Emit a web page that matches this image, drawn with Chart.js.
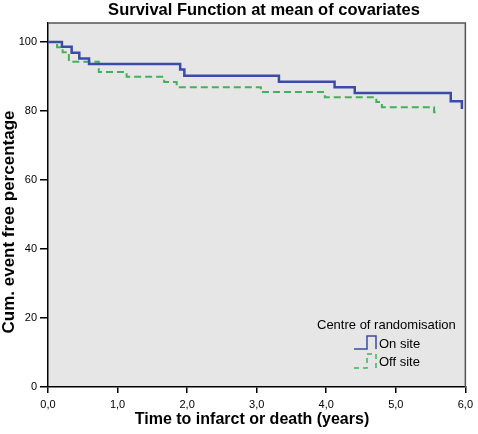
<!DOCTYPE html>
<html>
<head>
<meta charset="utf-8">
<script src="https://cdn.jsdelivr.net/npm/chart.js@4"></script>
<style>
  body { margin: 0; background: #ffffff; }
  #wrap { width: 478px; height: 434px; }
</style>
</head>
<body>
<div id="wrap"><canvas id="survivalChart" width="478" height="434"></canvas></div>
<script>
// Survival steps (time in years, cum. event free %)
const onSiteTimes = [0, 0.2, 0.34, 0.45, 0.59, 1.9, 1.96, 3.32, 4.12, 4.41, 5.79, 5.95];
const onSiteValues = [100, 98.6, 96.9, 95.2, 93.6, 92.0, 90.2, 88.5, 86.9, 85.2, 82.8, 80.6];

const offSiteTimes = [0, 0.13, 0.21, 0.3, 0.73, 1.13, 1.67, 1.85, 3.06, 3.98, 4.72, 4.8, 5.55, 5.61];
const offSiteValues = [100, 98.5, 97.0, 94.3, 91.3, 89.9, 88.4, 86.9, 85.5, 84.0, 82.6, 81.1, 79.6, 79.6];

const xTicks = [0, 1, 2, 3, 4, 5, 6];
const yTicks = [0, 20, 40, 60, 80, 100];

const seriesLabels = ["On site", "Off site"];
const legendTitle = "Centre of randomisation";
const chartTitle = "Survival Function at mean of covariates";
const xTitle = "Time to infarct or death (years)";
const yTitle = "Cum. event free percentage";

const blue = "#3a4ba8";
const green = "#45b05a";
const fontFamily = "'Liberation Sans', Arial, sans-serif";

function toPoints(times, values) {
  return times.map((t, i) => ({ x: t, y: values[i] }));
}

// Background, box, titles and the step-shaped legend
const survivalDecor = {
  id: "survivalDecor",
  beforeDraw(chart) {
    const { ctx, chartArea: a } = chart;
    ctx.save();
    ctx.fillStyle = "#e6e6e6";
    ctx.fillRect(a.left, a.top, a.right - a.left, a.bottom - a.top);
    ctx.restore();
  },
  afterDraw(chart) {
    const { ctx, chartArea: a } = chart;
    ctx.save();

    // top and right edges of the box
    ctx.strokeStyle = "#555555";
    ctx.lineWidth = 1.5;
    ctx.beginPath();
    ctx.moveTo(a.left, a.top);
    ctx.lineTo(a.right, a.top);
    ctx.lineTo(a.right, a.bottom);
    ctx.stroke();

    // titles
    ctx.fillStyle = "#000000";
    ctx.textAlign = "center";
    ctx.textBaseline = "middle";
    ctx.font = "bold 16.5px " + fontFamily;
    ctx.fillText(chartTitle, 264, 10);
    ctx.font = "bold 16px " + fontFamily;
    ctx.fillText(xTitle, 252, 420);

    ctx.save();
    ctx.translate(9, 222);
    ctx.rotate(-Math.PI / 2);
    ctx.font = "bold 17px " + fontFamily;
    ctx.fillText(yTitle, 0, 0);
    ctx.restore();

    // legend
    ctx.font = "13px " + fontFamily;
    ctx.textAlign = "left";
    ctx.fillText(legendTitle, 317, 325);
    ctx.fillText(seriesLabels[0], 379, 344);
    ctx.fillText(seriesLabels[1], 379, 362);

    ctx.lineWidth = 1.5;
    ctx.strokeStyle = blue;
    ctx.beginPath();
    ctx.moveTo(354, 349);
    ctx.lineTo(367, 349);
    ctx.lineTo(367, 336);
    ctx.lineTo(376, 336);
    ctx.lineTo(376, 349);
    ctx.stroke();

    ctx.strokeStyle = green;
    ctx.setLineDash([5, 4]);
    ctx.beginPath();
    ctx.moveTo(354, 368);
    ctx.lineTo(367, 368);
    ctx.lineTo(367, 354);
    ctx.lineTo(376, 354);
    ctx.lineTo(376, 368);
    ctx.stroke();

    ctx.restore();
  },
};

const survivalChart = new Chart(document.getElementById("survivalChart"), {
  type: "line",
  data: {
    datasets: [
      {
        label: seriesLabels[0],
        data: toPoints(onSiteTimes, onSiteValues),
        borderColor: blue,
        borderWidth: 2.5,
        stepped: true,
        pointRadius: 0,
        fill: false,
      },
      {
        label: seriesLabels[1],
        data: toPoints(offSiteTimes, offSiteValues),
        borderColor: green,
        borderWidth: 2,
        borderDash: [7, 4],
        stepped: true,
        pointRadius: 0,
        fill: false,
      },
    ],
  },
  options: {
    responsive: false,
    animation: false,
    layout: {
      padding: { left: 0, right: 9, top: 23, bottom: 0 },
    },
    plugins: {
      legend: { display: false },
      tooltip: { enabled: false },
      title: { display: false },
    },
    scales: {
      x: {
        type: "linear",
        min: 0,
        max: 6,
        afterFit: (scale) => { scale.height = 47; },
        afterBuildTicks: (scale) => { scale.ticks = xTicks.map((v) => ({ value: v })); },
        border: { color: "#000000", width: 1.5 },
        grid: { drawOnChartArea: false, color: "#000000", tickLength: 6, lineWidth: 1.5 },
        ticks: {
          color: "#000000",
          padding: 5,
          maxRotation: 0,
          font: { family: fontFamily, size: 11 },
          callback: (value) => value.toFixed(1).replace(".", ","),
        },
      },
      y: {
        min: 0,
        max: 105.5,
        afterFit: (scale) => { scale.width = 48; },
        afterBuildTicks: (scale) => { scale.ticks = yTicks.map((v) => ({ value: v })); },
        border: { color: "#000000", width: 1.5 },
        grid: { drawOnChartArea: false, color: "#000000", tickLength: 8, lineWidth: 1.5 },
        ticks: {
          color: "#000000",
          padding: 3,
          font: { family: fontFamily, size: 11 },
          callback: (value) => value,
        },
      },
    },
  },
  plugins: [survivalDecor],
});
</script>
</body>
</html>
